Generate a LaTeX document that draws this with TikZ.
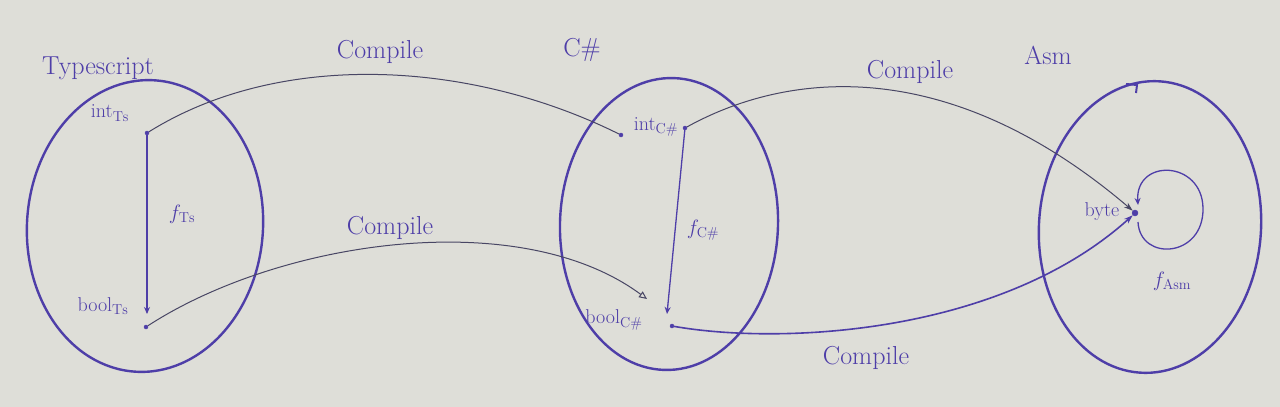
\documentclass[tikz,border=0pt]{standalone}
\usetikzlibrary{shapes.geometric,arrows.meta}
\definecolor{ink}{RGB}{78,62,168}
\definecolor{pencil}{RGB}{72,70,100}
\definecolor{paper}{RGB}{222,222,216}
\tikzset{
  world/.style={draw=ink, line width=2.4pt, ellipse, inner sep=0pt},
  pt/.style={circle, draw=ink, fill=ink, minimum size=4pt, inner sep=0pt},
  lbl/.style={text=ink, font=\fontsize{20}{24}\selectfont, inner sep=0pt},
  big/.style={text=ink, font=\fontsize{26}{30}\selectfont, inner sep=0pt},
  fn/.style={draw=ink, line width=1.3pt, -{Stealth[length=7pt,width=6pt]}},
  comp/.style={draw=pencil, line width=1pt},
}
\begin{document}
\begin{tikzpicture}[x=1pt,y=-1pt]
\fill[paper] (0,0) rectangle (1280,407);
\useasboundingbox (0,0) rectangle (1280,407);

% worlds
\node[world, minimum width=236pt, minimum height=292pt, rotate=-4] (ts) at (145,226) {};
\node[world, minimum width=218pt, minimum height=292pt, rotate=-2] (cs) at (669,224) {};
\node[world, minimum width=222pt, minimum height=292pt, rotate=-4] (asm) at (1150,227) {};
\draw[ink, line width=2pt] (1126,84) -- (1137,85) -- (1136,93);

\node[big] (tsname) at (98,68) {Typescript};
\node[big] (csname) at (582,50) {C\#};
\node[big] (asmname) at (1048,55) {Asm};

% points
\node[pt] (its) at (147,133) {};
\node[pt] (bts) at (146,327) {};
\node[pt] (icin) at (621,135) {};
\node[pt] (ics) at (685,128) {};
\node[pt] (bcs) at (672,326) {};
\node[pt, minimum size=6pt] (byte) at (1135,213) {};

\node[lbl] (itsl) at (110,113) {int$_{\mathrm{Ts}}$};
\node[lbl] (btsl) at (103,306) {bool$_{\mathrm{Ts}}$};
\node[lbl] (icsl) at (656,127) {int$_{\mathrm{C\#}}$};
\node[lbl] (bcsl) at (614,320) {bool$_{\mathrm{C\#}}$};
\node[lbl] (bytel) at (1102,212) {byte};

% functions
\draw[fn] (its) -- (147,314);
\node[lbl] (fts) at (182,214) {$f_{\mathrm{Ts}}$};
\draw[fn] (ics) -- (667,314);
\node[lbl] (fcs) at (703,230) {$f_{\mathrm{C\#}}$};
\draw[fn] ([xshift=3pt,yshift=-9pt]byte.center) .. controls (1140,262) and (1204,258) .. (1203,208)
      .. controls (1202,160) and (1135,158) .. ([xshift=3pt,yshift=8pt]byte.center);
\node[lbl] (fasm) at (1172,281) {$f_{\mathrm{Asm}}$};

% compile arrows
\draw[comp] (its) .. controls (280,50) and (470,60) .. (icin);
\node[big] (c1) at (380,52) {Compile};
\draw[comp, -{Triangle[open, length=8pt, width=7pt]}] (bts) .. controls (280,240) and (520,205) .. (647,299);
\node[big] (c2) at (390,228) {Compile};
\draw[comp, -{Stealth[length=9pt,width=6pt]}] (ics) .. controls (790,70) and (950,55) .. (byte.north west);
\node[big] (c3) at (910,72) {Compile};
\draw[draw=ink, line width=1.6pt, -{Stealth[length=9pt,width=6pt]}] (bcs) .. controls (780,345) and (1000,335) .. (byte.south west);
\node[big] (c4) at (866,358) {Compile};
\end{tikzpicture}
\end{document}
